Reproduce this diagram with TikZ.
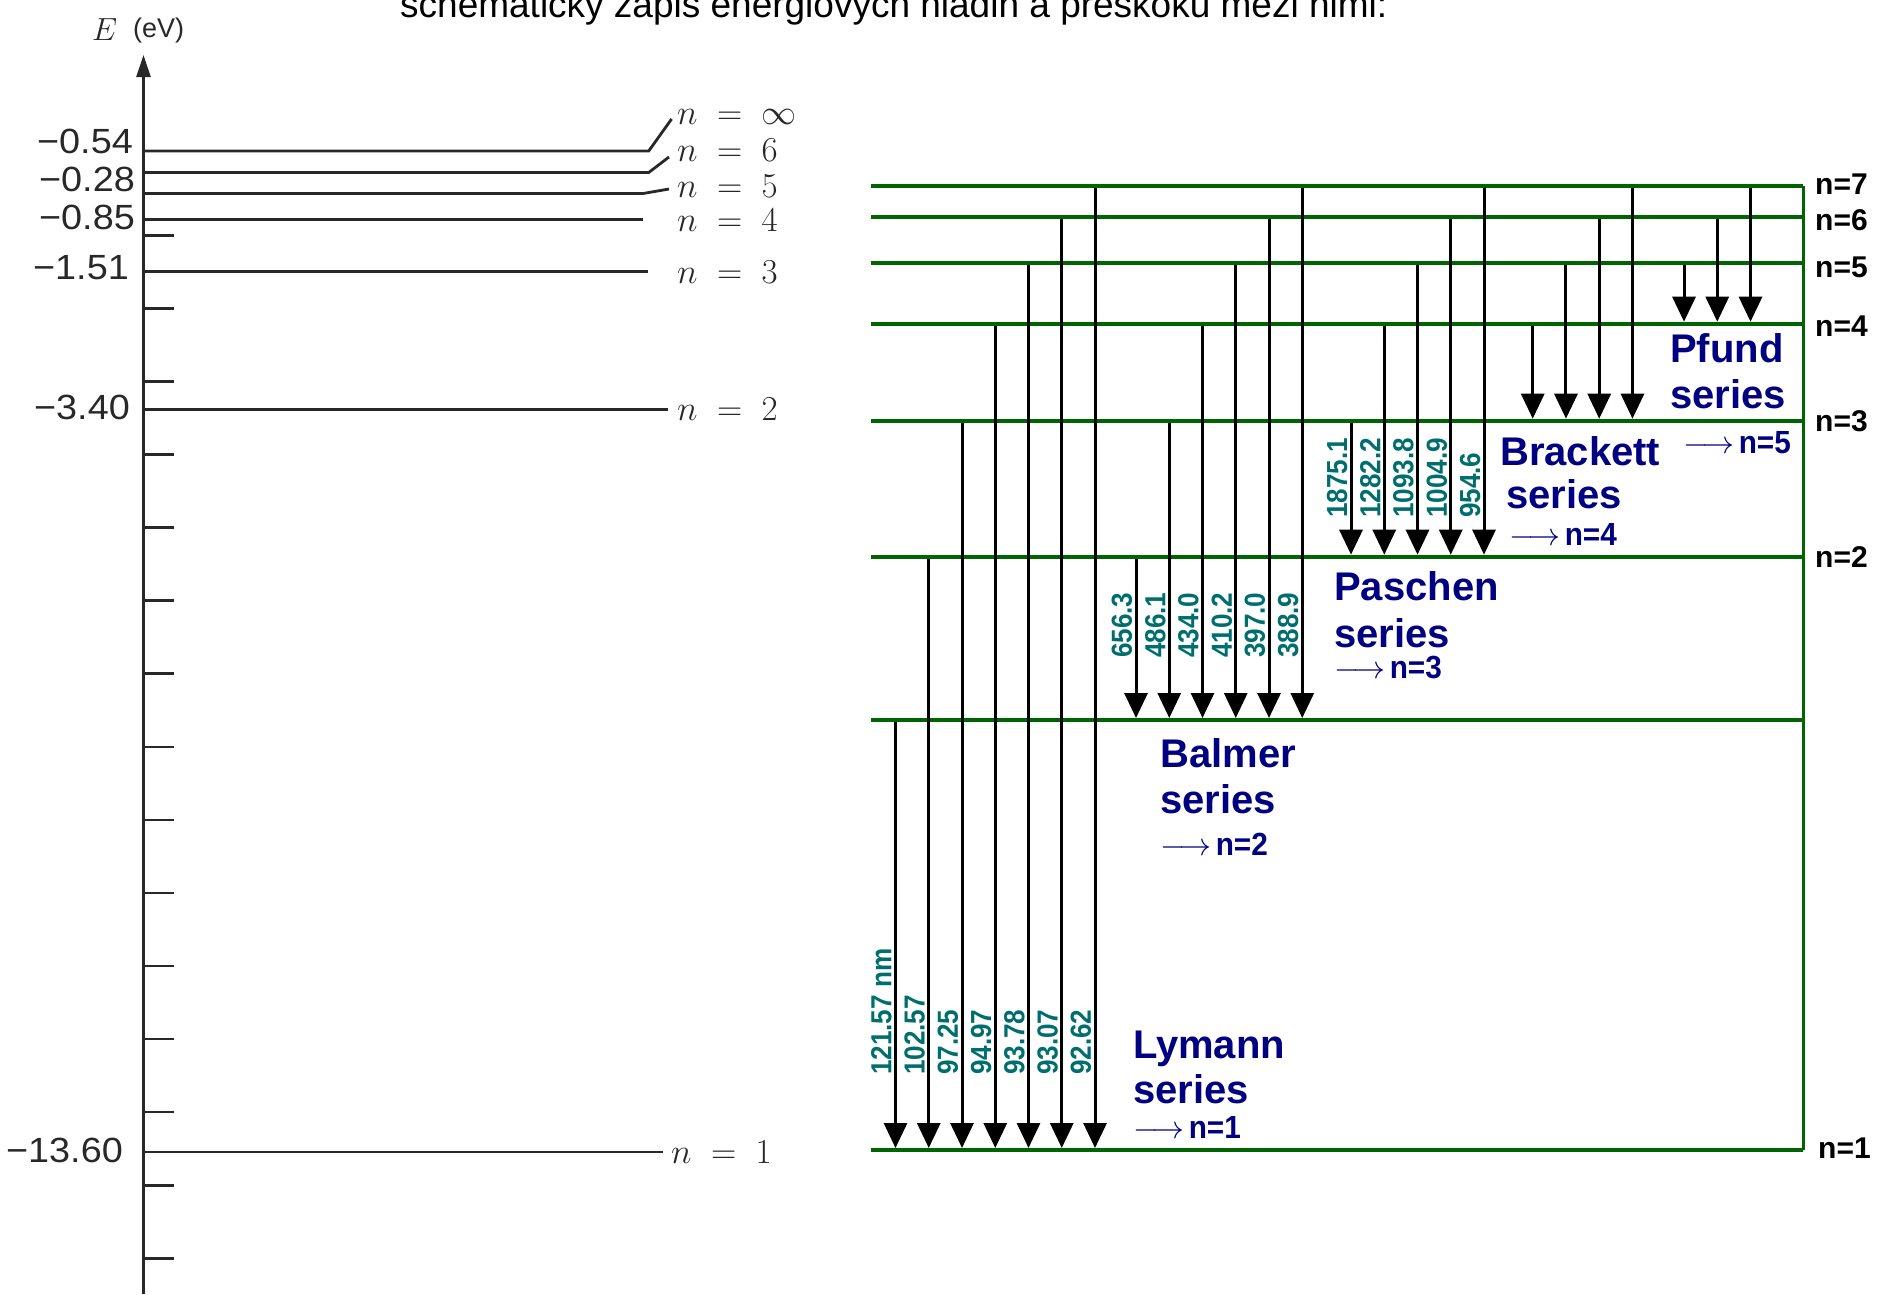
\RequirePackage{fix-cm}
\documentclass[tikz,border=0pt]{standalone}
\usepackage{fontspec}
\setmainfont{Liberation Sans}
\newfontfamily\capfont{Liberation Sans}
\newfontfamily\valfont{Liberation Sans}[FakeStretch=1.08]
\newfontfamily\wlfont{Liberation Sans}[FakeStretch=0.9]
\newfontfamily\tgtfont{Liberation Sans}[FakeStretch=0.93]
\usetikzlibrary{arrows.meta}
\definecolor{lvgreen}{RGB}{0,100,0}
\definecolor{wlteal}{RGB}{0,110,110}
\definecolor{sernavy}{RGB}{0,0,128}
\definecolor{scan}{RGB}{40,40,40}
\def\lv{{185.7,216.7,262.7,323.7,420.7,556.7,720,1150}}
\begin{document}
\begin{tikzpicture}[x=1pt,y=-1pt,
  lvl/.style={draw=scan, line width=2.8pt},
  ticklen/.style={draw=scan, line width=2.6pt},
  nlab/.style={anchor=west, inner sep=0pt, text=scan, font=\fontsize{35}{40}\selectfont},
  vlab/.style={anchor=east, inner sep=0pt, text=scan, font=\valfont\fontsize{35}{40}\selectfont},
  glevel/.style={draw=lvgreen, line width=4pt},
  gvert/.style={draw=lvgreen, line width=3pt},
  trans/.style={draw=black, line width=3pt, -{Triangle[width=23pt,length=25pt]}},
  wl/.style={anchor=west, rotate=90, inner sep=0pt, text=wlteal, font=\wlfont\bfseries\fontsize{29}{32}\selectfont},
  ser/.style={anchor=base west, inner sep=0pt, text=sernavy, font=\bfseries\fontsize{40}{46}\selectfont},
  tgt/.style={anchor=base west, inner sep=0pt, text=sernavy, font=\tgtfont\bfseries\fontsize{32}{36}\selectfont},
  rlab/.style={anchor=west, inner sep=0pt, text=black, font=\bfseries\fontsize{30}{34}\selectfont}
]
\useasboundingbox (0,0) rectangle (1878,1294);

% caption (cut by the top edge)
\node[anchor=base west, inner sep=0pt, font=\capfont\fontsize{37}{44}\selectfont] (cap) at (400,17) {schematický zápis energiových hladin a přeskoků mezi nimi:};

% ---------- left panel ----------
\coordinate (axb) at (143.5,1294);
\coordinate (axt) at (143.5,55);
\draw[draw=scan, line width=2.6pt, -{Triangle[width=14pt,length=22pt]}] (axb) -- (axt);
\node[anchor=base west, inner sep=0pt, text=scan, font=\fontsize{32}{36}\selectfont] (E) at (92,40) {$E$};
\node[anchor=base west, inner sep=0pt, text=scan, font=\fontsize{27}{32}\selectfont] (eV) at (133,37) {(eV)};

\foreach \k in {0,...,14}
  \draw[ticklen] (143.5,{235.3+73.07*\k}) -- ++(30,0);

% levels
\draw[lvl] (143.5,151) -- (648.7,151) -- (671.6,119);
\draw[lvl] (143.5,172.5) -- (648.7,172.5) -- (669,157);
\draw[lvl] (143.5,193.5) -- (643,193.5) -- (669,189);
\draw[lvl] (143.5,219.5) -- (643,219.5);
\draw[lvl] (143.5,271.5) -- (648,271.5);
\draw[lvl] (143.5,409.3) -- (668,409.3);
\draw[lvl] (143.5,1152) -- (663,1152);

\node[nlab] (ninf) at (677,116.7) {$n\;=\;\infty$};
\node[nlab] (n6l) at (677,150) {$n\;=\;6$};
\node[nlab] (n5l) at (677,186.7) {$n\;=\;5$};
\node[nlab] (n4l) at (677,220) {$n\;=\;4$};
\node[nlab] (n3l) at (677,272.7) {$n\;=\;3$};
\node[nlab] (n2l) at (677,409.3) {$n\;=\;2$};
\node[nlab] (n1l) at (671,1152) {$n\;=\;1$};

\node[vlab] (v054) at (133,141) {−0.54};
\node[vlab] (v028) at (135,179) {−0.28};
\node[vlab] (v085) at (135,217.5) {−0.85};
\node[vlab] (v151) at (129,267.5) {−1.51};
\node[vlab] (v340) at (130,407) {−3.40};
\node[vlab] (v1360) at (123,1150) {−13.60};

% ---------- right panel ----------
\foreach \y in {185.7,216.7,262.7,323.7,420.7,556.7,720,1150}
  \draw[glevel] (871,\y) -- (1803,\y);
\coordinate (vt) at (1803,185.7);
\coordinate (vb) at (1803,1150);
\draw[gvert] (vt) -- (vb);

\foreach \e/\xo in {7/895.5,6/1136,5/1351,4/1532.7,3/1684}{
  \pgfmathtruncatemacro\nn{\e-1}
  \pgfmathsetmacro\ye{\lv[\e]}
  \foreach \k in {0,...,\nn}{
    \pgfmathtruncatemacro\s{\e-1-\k}
    \pgfmathsetmacro\ys{\lv[\s]}
    \pgfmathsetmacro\xx{\xo+33.25*\k}
    \coordinate (t-\e-\k) at (\xx,\ys+2);
    \coordinate (h-\e-\k) at (\xx,\ye-2);
    \draw[trans] (t-\e-\k) -- (h-\e-\k);
  }
}

% wavelength labels
\foreach \t [count=\i from 0] in {121.57 nm,102.57,97.25,94.97,93.78,93.07,92.62}
  \node[wl] (wly\i) at ({895.5+33.25*\i-14},1075) {\t};
\foreach \t [count=\i from 0] in {656.3,486.1,434.0,410.2,397.0,388.9}
  \node[wl] (wba\i) at ({1136+33.25*\i-14},658) {\t};
\foreach \t [count=\i from 0] in {1875.1,1282.2,1093.8,1004.9,954.6}
  \node[wl] (wpa\i) at ({1351+33.25*\i-14},518) {\t};

% series names
\node[ser] (ly1) at (1133,1058) {Lymann};
\node[ser] (ly2) at (1133,1103) {series};
\node[tgt] (ly3) at (1133,1138) {$\longrightarrow$\hspace{4pt}n=1};

\node[ser] (ba1) at (1160,767) {Balmer};
\node[ser] (ba2) at (1160,813) {series};
\node[tgt] (ba3) at (1160,855) {$\longrightarrow$\hspace{4pt}n=2};

\node[ser] (pa1) at (1334,600) {Paschen};
\node[ser] (pa2) at (1334,647) {series};
\node[tgt] (pa3) at (1334,678) {$\longrightarrow$\hspace{4pt}n=3};

\node[ser] (br1) at (1500,465) {Brackett};
\node[ser] (br2) at (1506,508) {series};
\node[tgt] (br3) at (1509,545) {$\longrightarrow$\hspace{4pt}n=4};
\node[tgt] (br4) at (1683,453) {$\longrightarrow$\hspace{4pt}n=5};

\node[ser] (pf1) at (1670,362) {Pfund};
\node[ser] (pf2) at (1670,408) {series};

% right level labels
\node[rlab] (r7) at (1815,184) {n=7};
\node[rlab] (r6) at (1815,220) {n=6};
\node[rlab] (r5) at (1815,267) {n=5};
\node[rlab] (r4) at (1815,326) {n=4};
\node[rlab] (r3) at (1815,421) {n=3};
\node[rlab] (r2) at (1815,557) {n=2};
\node[rlab] (r1) at (1818,1148) {n=1};
\end{tikzpicture}
\end{document}
